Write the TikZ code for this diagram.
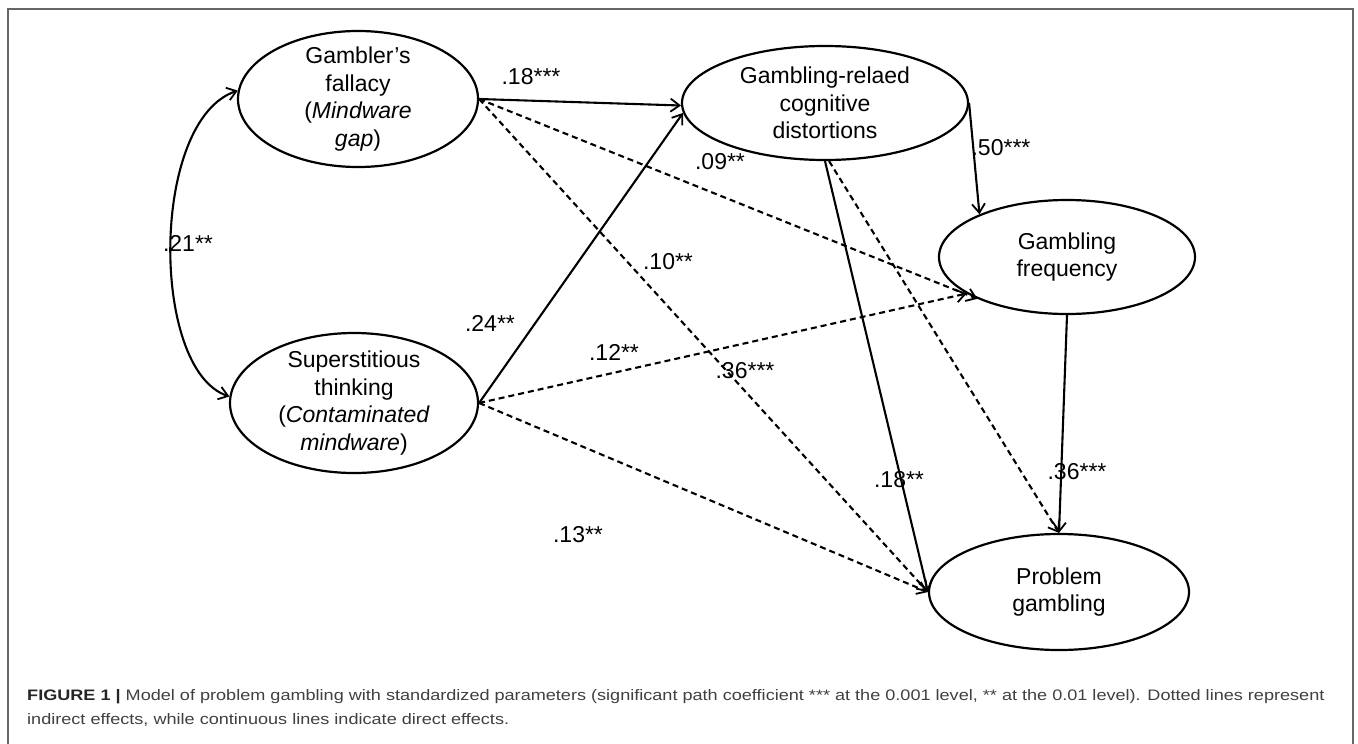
\documentclass[tikz,border=0pt]{standalone}
\usepackage{fontspec}
\setmainfont{Liberation Sans}
\newfontfamily\capfont[FakeStretch=1.19]{Liberation Sans}
\usetikzlibrary{shapes.geometric,arrows.meta}
\begin{document}
\begin{tikzpicture}[x=1pt,y=-1pt,
  ell/.style={draw, ellipse, line width=2.2pt, inner sep=0pt},
  etext/.style={align=center, font=\fontsize{23}{27.5}\selectfont, inner sep=0pt},
  lab/.style={font=\fontsize{23}{27}\selectfont, inner sep=0pt},
  tip/.style={-{Straight Barb[length=9pt,width=13pt,line width=1.8pt]}},
  direct/.style={tip, line width=2.1pt},
  indirect/.style={tip, line width=2.1pt, dash pattern=on 6pt off 4pt},
  capt/.style={anchor=west, inner sep=0pt, text=black!75, font=\capfont\fontsize{15.2}{20}\selectfont}
]
\useasboundingbox (0,0) rectangle (1358,744);
\draw[black!60, line width=1.5pt] (8,744) -- (8,9) -- (1353,9) -- (1353,744);

% ellipses
\node[ell, minimum width=240pt, minimum height=136pt] (gf) at (358,99) {};
\node[etext] (gft) at (gf) {Gambler's\\fallacy\\(\textit{Mindware}\\\textit{gap})};
\node[ell, minimum width=248pt, minimum height=140pt] (st) at (354,403) {};
\node[etext] (stt) at (st) {Superstitious\\thinking\\(\textit{Contaminated}\\\textit{mindware})};
\node[ell, minimum width=286pt, minimum height=114pt] (gr) at (825,103) {};
\node[etext] (grt) at (gr) {Gambling-relaed\\cognitive\\distortions};
\node[ell, minimum width=256pt, minimum height=114pt] (fq) at (1067,257) {};
\node[etext] (fqt) at (fq) {Gambling\\frequency};
\node[ell, minimum width=260pt, minimum height=116pt] (pg) at (1059,592) {};
\node[etext] (pgt) at (pg) {Problem\\gambling};

% correlation
\draw[line width=2.1pt, {Straight Barb[length=9pt,width=13pt,line width=1.8pt]}-{Straight Barb[length=9pt,width=13pt,line width=1.8pt]}]
  (gf.176) .. controls (150,120) and (150,370) .. (st.177);

% direct effects
\draw[direct] (gf.east) -- (gr.181);
\draw[direct] (st.east) -- (gr.184);
\draw[direct] (gr.east) -- (fq.154);
\draw[direct] (gr.south) -- (pg.west);
\draw[direct] (fq.south) -- (pg.north);

% indirect effects
\draw[indirect] (gf.east) -- (fq.205);
\draw[indirect] (gf.east) -- (pg.west);
\draw[indirect] (st.east) -- (fq.200);
\draw[indirect] (st.east) -- (pg.west);
\draw[indirect] (gr.-86) -- (pg.north);

% labels
\node[lab] (l1) at (531,77) {.18***};
\node[lab] (l2) at (188,243) {.21**};
\node[lab] (l3) at (490,323) {.24**};
\node[lab] (l4) at (668,262) {.10**};
\node[lab] (l5) at (614,352) {.12**};
\node[lab] (l6) at (720,162) {.09**};
\node[lab] (l7) at (1001,148) {.50***};
\node[lab] (l8) at (745,371) {.36***};
\node[lab] (l9) at (899,480) {.18**};
\node[lab] (l10) at (578,535) {.13**};
\node[lab] (l11) at (1077,472) {.36***};

% caption
\node[capt] (c1) at (27,697) {\textbf{\textcolor{black!85}{FIGURE 1} \textcolor{black!85}{|}} Model of problem gambling with standardized parameters (significant path coefficient *** at the 0.001 level, ** at the 0.01 level). Dotted lines represent};
\node[capt] (c2) at (27,720) {indirect effects, while continuous lines indicate direct effects.};
\end{tikzpicture}
\end{document}
